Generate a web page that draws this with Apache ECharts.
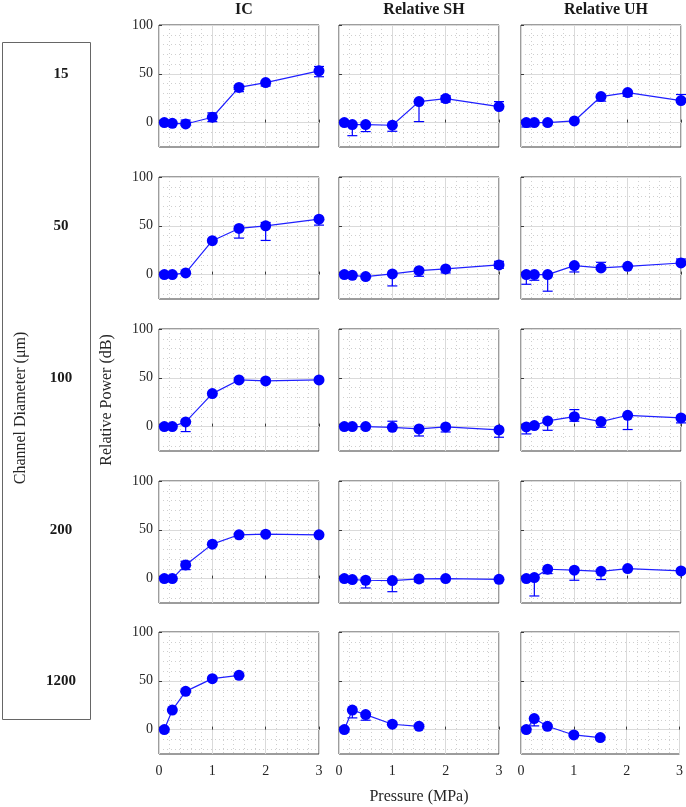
<!DOCTYPE html>
<html><head><meta charset="utf-8">
<script src="https://cdn.jsdelivr.net/npm/echarts@6/dist/echarts.min.js"></script>
<style>html,body{margin:0;padding:0;background:#fff}#c{width:686px;height:807px}</style>
</head><body><div id="c"></div>
<script>
const columns = ['IC', 'Relative SH', 'Relative UH'];
const diameters = ['15', '50', '100', '200', '1200'];
const pressure = [0.1, 0.25, 0.5, 1, 1.5, 2, 3];
const pressure1200 = [0.1, 0.25, 0.5, 1, 1.5];
const xTicks = [0, 1, 2, 3];
const yTicks = [0, 50, 100];
const yMinorTicks = [-20, -10, 10, 20, 30, 40, 60, 70, 80, 90];

// 15 um
const ic15 = [0, -0.7, -1.4, 5.5, 36, 41, 53];
const ic15Dn = [0, 0, 0, 4.5, 4.3, 3.5, 6];
const ic15Up = [0, 0, 4, 4.5, 0, 0, 4.5];
const sh15 = [0, -2, -2, -2.7, 21.5, 24.6, 16.4];
const sh15Dn = [0, 11.4, 7.2, 6.2, 20.5, 3.6, 0];
const sh15Up = [0, 0, 0, 0, 0, 3, 5.1];
const uh15 = [0, 0, 0, 1.7, 26.7, 30.8, 22.6];
const uh15Dn = [4.5, 0, 0, 0, 4.7, 3.8, 0];
const uh15Up = [0, 0, 0, 0, 0, 0, 6.2];
// 50 um
const ic50 = [0, 0, 1.7, 34.7, 47.3, 50, 56.8];
const ic50Dn = [0, 0, 0, 0, 9.9, 15, 6.1];
const ic50Up = [0, 0, 0, 0, 0, 3.4, 0];
const sh50 = [0, -0.7, -2, 0.7, 4, 5.8, 9.9];
const sh50Dn = [0, 0, 0, 12.3, 5.7, 4.1, 3.4];
const sh50Up = [0, 0, 0, 0, 0, 0, 3.7];
const uh50 = [0, 0, 0, 9.2, 6.8, 8.5, 11.9];
const uh50Dn = [9.9, 5.8, 17, 6.5, 0, 0, 0];
const uh50Up = [0, 0, 0, 0, 5.8, 0, 4.1];
// 100 um
const ic100 = [0, 0, 4.8, 33.8, 47.8, 46.8, 47.8];
const ic100Dn = [0, 0, 9.9, 0, 0, 0, 0];
const ic100Up = [0, 0, 0, 0, 0, 0, 0];
const sh100 = [0, 0, 0, -0.7, -2.4, -0.3, -3.4];
const sh100Dn = [0, 0, 0, 0, 7.2, 5.2, 7.5];
const sh100Up = [0, 0, 0, 6.2, 0, 0, 0];
const uh100 = [-0.3, 1, 5.8, 10.2, 5.1, 11.6, 8.9];
const uh100Dn = [7.2, 0, 9.6, 4.7, 5.8, 14.6, 5.1];
const uh100Up = [0, 0, 0, 7.2, 0, 0, 0];
// 200 um
const ic200 = [0, 0, 14, 35.3, 44.9, 45.5, 44.9];
const ic200Dn = [0, 0, 4.8, 0, 0, 0, 0];
const ic200Up = [0, 0, 3.8, 0, 0, 0, 0];
const sh200 = [0, -1, -1.7, -2, -0.3, 0, -0.7];
const sh200Dn = [0, 0, 7.9, 11.4, 3.1, 0, 0];
const sh200Up = [0, 0, 0, 0, 0, 0, 0];
const uh200 = [0, 1, 9.6, 8.6, 7.5, 10.3, 7.9];
const uh200Dn = [0, 18.8, 4.5, 10.3, 8.5, 0, 0];
const uh200Up = [0, 0, 0, 0, 0, 0, 0];
// 1200 um
const ic1200 = [0, 20, 39.2, 52.2, 55.6];
const ic1200Dn = [0, 0, 0, 0, 0];
const ic1200Up = [0, 0, 0, 0, 0];
const sh1200 = [0, 20, 15.4, 5.5, 3.4];
const sh1200Dn = [0, 8, 5.8, 0, 0];
const sh1200Up = [0, 0, 0, 0, 0];
const uh1200 = [0, 11.3, 3.4, -5.5, -8.2];
const uh1200Dn = [0, 7.5, 0, 0, 0];
const uh1200Up = [0, 0, 0, 0, 0];

const panels = [
  [[pressure, ic15, ic15Dn, ic15Up], [pressure, sh15, sh15Dn, sh15Up], [pressure, uh15, uh15Dn, uh15Up]],
  [[pressure, ic50, ic50Dn, ic50Up], [pressure, sh50, sh50Dn, sh50Up], [pressure, uh50, uh50Dn, uh50Up]],
  [[pressure, ic100, ic100Dn, ic100Up], [pressure, sh100, sh100Dn, sh100Up], [pressure, uh100, uh100Dn, uh100Up]],
  [[pressure, ic200, ic200Dn, ic200Up], [pressure, sh200, sh200Dn, sh200Up], [pressure, uh200, uh200Dn, uh200Up]],
  [[pressure1200, ic1200, ic1200Dn, ic1200Up], [pressure1200, sh1200, sh1200Dn, sh1200Up], [pressure1200, uh1200, uh1200Dn, uh1200Up]]
];

const FONT = '"Liberation Serif", "Times New Roman", serif';
const BLUE = '#0000ff';
const colLeft = [159, 339, 521];
const rowTop = [25, 177, 329, 481, 632];
const PW = 160, PH = 122;

const grids = [], xAxes = [], yAxes = [], series = [];
let gi = 0;
for (let r = 0; r < 5; r++) {
  for (let c = 0; c < 3; c++) {
    grids.push({left: colLeft[c], top: rowTop[r], width: PW, height: PH,
      show: true, borderColor: '#3a3a3a', borderWidth: 1, backgroundColor: '#fff'});
    xAxes.push({type: 'value', gridIndex: gi, min: 0, max: 3, interval: 1,
      axisLine: {show: false},
      axisTick: {show: true, inside: true, length: 3, lineStyle: {color: '#3a3a3a'}},
      axisLabel: {show: r === 4, margin: 10, fontFamily: FONT, fontSize: 14, color: '#262626'},
      splitLine: {show: true, lineStyle: {color: '#dadada', width: 1}},
      minorTick: {show: false, splitNumber: 5},
      minorSplitLine: {show: true, lineStyle: {color: '#cfcfcf', type: [1, 3], width: 1}}
    });
    yAxes.push({type: 'value', gridIndex: gi, min: -25, max: 100,
      axisLine: {show: false},
      axisTick: {show: true, inside: true, length: 3, customValues: yTicks, lineStyle: {color: '#3a3a3a'}},
      axisLabel: {show: c === 0, customValues: yTicks, margin: 6, fontFamily: FONT, fontSize: 14, color: '#262626'},
      splitLine: {show: true, lineStyle: {color: '#dadada', width: 1}}
    });
    yAxes.push({type: 'value', gridIndex: gi, min: -25, max: 100, position: 'right',
      axisLine: {show: false}, axisLabel: {show: false},
      axisTick: {show: false, customValues: yMinorTicks},
      splitLine: {show: true, lineStyle: {color: '#cfcfcf', type: [1, 3], width: 1}}
    });
    const p = panels[r][c];
    const xs = p[0], vs = p[1], dn = p[2], up = p[3];
    const lineData = xs.map((x, i) => [x, vs[i]]);
    const errData = xs.map((x, i) => [x, vs[i], vs[i] - dn[i], vs[i] + up[i], dn[i], up[i]]);
    series.push({type: 'custom', xAxisIndex: gi, yAxisIndex: 2 * gi, silent: true, z: 3,
      data: errData,
      renderItem: function (params, api) {
        const x = api.value(0), lo = api.value(2), hi = api.value(3);
        const d = api.value(4), u = api.value(5);
        const pLo = api.coord([x, lo]), pHi = api.coord([x, hi]);
        const w = 5;
        const st = {stroke: BLUE, lineWidth: 1.2};
        const ch = [{type: 'line', shape: {x1: pLo[0], y1: pLo[1], x2: pHi[0], y2: pHi[1]}, style: st}];
        if (d > 0) ch.push({type: 'line', shape: {x1: pLo[0] - w, y1: pLo[1], x2: pLo[0] + w, y2: pLo[1]}, style: st});
        if (u > 0) ch.push({type: 'line', shape: {x1: pHi[0] - w, y1: pHi[1], x2: pHi[0] + w, y2: pHi[1]}, style: st});
        return {type: 'group', children: ch};
      }
    });
    series.push({type: 'line', xAxisIndex: gi, yAxisIndex: 2 * gi, data: lineData, silent: true, z: 4,
      symbol: 'circle', symbolSize: 11, showSymbol: true,
      lineStyle: {color: '#2020ff', width: 1.2},
      itemStyle: {color: BLUE, borderWidth: 0},
      animation: false
    });
    gi++;
  }
}

const titles = columns.map((t, c) => ({text: t, left: colLeft[c] + PW / 2, top: -3, textAlign: 'center',
  textStyle: {fontFamily: FONT, fontSize: 16, fontWeight: 'bold', color: '#1a1a1a'}}));

const graphics = [
  {type: 'rect', shape: {x: 2.5, y: 42.5, width: 88, height: 677}, style: {fill: 'none', stroke: '#666', lineWidth: 1}},
  {type: 'text', x: 21, y: 408, rotation: Math.PI / 2,
    style: {text: 'Channel Diameter (μm)', font: '16px ' + FONT, fill: '#262626', textAlign: 'center', textVerticalAlign: 'middle'}},
  {type: 'text', x: 107, y: 400, rotation: Math.PI / 2,
    style: {text: 'Relative Power (dB)', font: '16px ' + FONT, fill: '#262626', textAlign: 'center', textVerticalAlign: 'middle'}},
  {type: 'text', x: 419, y: 797,
    style: {text: 'Pressure (MPa)', font: '16px ' + FONT, fill: '#262626', textAlign: 'center', textVerticalAlign: 'middle'}}
];
diameters.forEach((d, r) => {
  graphics.push({type: 'text', x: 61, y: rowTop[r] + 49,
    style: {text: d, font: 'bold 15px ' + FONT, fill: '#1a1a1a', textAlign: 'center', textVerticalAlign: 'middle'}});
});

const chart = echarts.init(document.getElementById('c'), null, {renderer: 'canvas'});
chart.setOption({
  animation: false,
  backgroundColor: '#fff',
  title: titles,
  grid: grids,
  xAxis: xAxes,
  yAxis: yAxes,
  series: series,
  graphic: graphics
});
</script></body></html>
